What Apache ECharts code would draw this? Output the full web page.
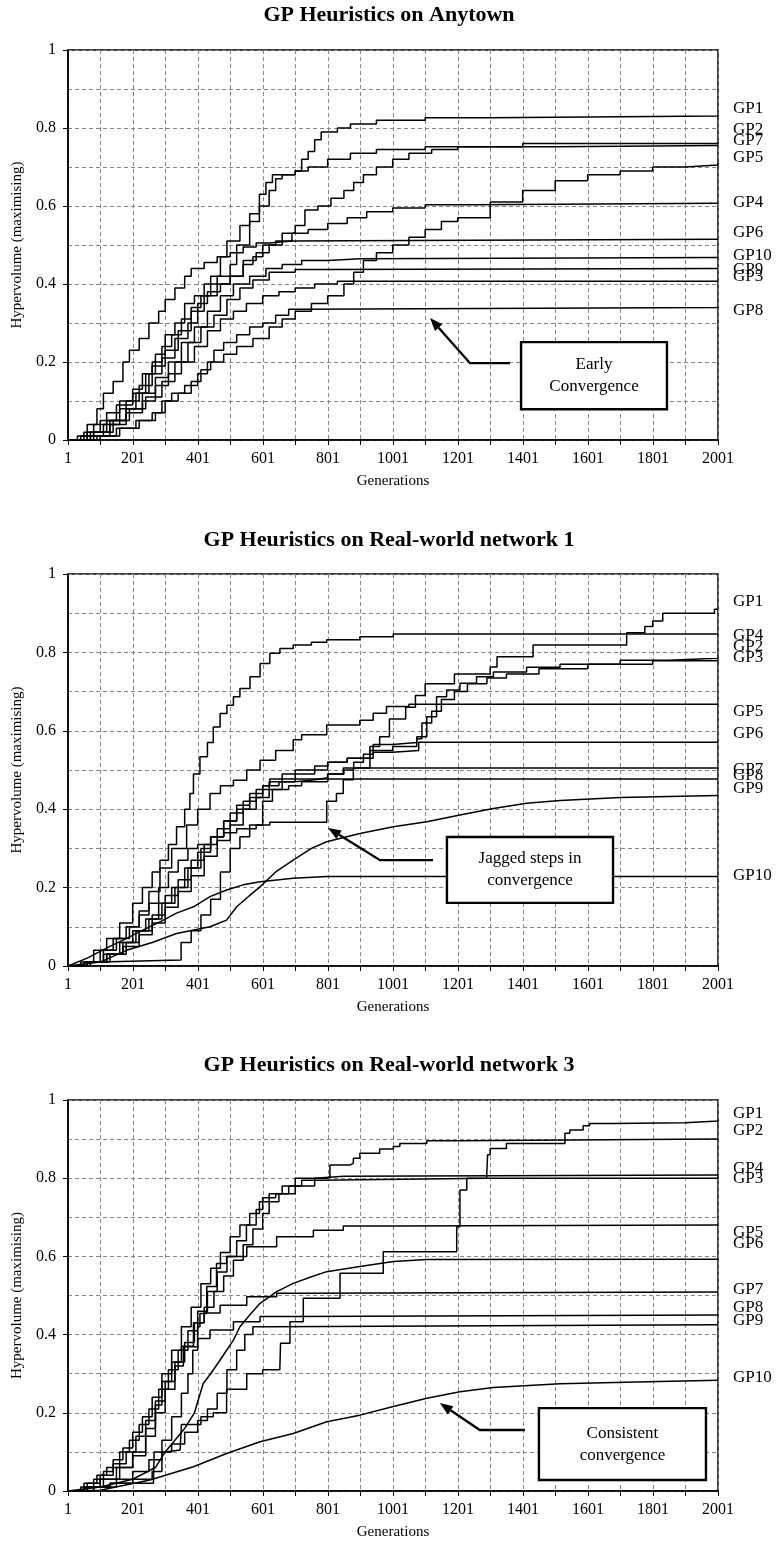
<!DOCTYPE html>
<html>
<head>
<meta charset="utf-8">
<script src="https://cdn.jsdelivr.net/npm/echarts@6/dist/echarts.min.js"></script>
<style>
  html, body { margin: 0; padding: 0; background: #fff; }
  #chart { width: 778px; height: 1547px; }
</style>
</head>
<body>
<div id="chart"></div>
<script>
// ---- data (generation, hypervolume), series in order GP1..GP10 ----
const seriesNames = ['GP1', 'GP2', 'GP3', 'GP4', 'GP5', 'GP6', 'GP7', 'GP8', 'GP9', 'GP10'];
const panelTitles = ['GP Heuristics on Anytown', 'GP Heuristics on Real-world network 1', 'GP Heuristics on Real-world network 3'];
const xTickLabels = ['1', '201', '401', '601', '801', '1001', '1201', '1401', '1601', '1801', '2001'];

const anytownCurves = [
  [[1,0],[40,0.01],[80,0.04],[120,0.07],[160,0.1],[200,0.13],[230,0.17],[260,0.2],[290,0.24],[320,0.27],[350,0.31],[380,0.34],[410,0.37],[440,0.42],[470,0.47],[490,0.51],[530,0.55],[560,0.58],[590,0.63],[610,0.66],[630,0.68],[700,0.69],[720,0.72],[740,0.74],[760,0.77],[780,0.79],[830,0.8],[870,0.81],[950,0.82],[1100,0.826],[1300,0.831],[2001,0.833]],
  [[1,0],[50,0.02],[100,0.05],[150,0.09],[200,0.12],[240,0.17],[270,0.22],[300,0.27],[330,0.3],[360,0.35],[390,0.37],[420,0.4],[460,0.42],[500,0.45],[520,0.5],[560,0.56],[590,0.6],[620,0.64],[640,0.67],[660,0.68],[700,0.69],[740,0.7],[800,0.72],[870,0.735],[950,0.745],[1100,0.752],[1400,0.76],[2001,0.764]],
  [[1,0],[70,0.01],[130,0.04],[180,0.07],[230,0.1],[270,0.14],[310,0.17],[350,0.2],[390,0.24],[430,0.28],[470,0.31],[510,0.33],[550,0.35],[600,0.37],[650,0.38],[700,0.39],[760,0.4],[830,0.407],[2001,0.408]],
  [[1,0],[60,0.01],[110,0.04],[160,0.08],[210,0.12],[250,0.17],[290,0.21],[330,0.26],[370,0.3],[400,0.35],[430,0.38],[470,0.4],[500,0.42],[540,0.45],[570,0.47],[600,0.5],[640,0.51],[690,0.53],[740,0.54],[800,0.555],[860,0.57],[920,0.585],[1000,0.595],[1100,0.603],[1250,0.607],[2001,0.608]],
  [[1,0],[100,0.01],[160,0.03],[220,0.05],[270,0.07],[300,0.1],[340,0.12],[380,0.15],[410,0.18],[440,0.2],[480,0.22],[520,0.24],[570,0.26],[620,0.29],[660,0.31],[700,0.33],[750,0.35],[800,0.37],[850,0.4],[880,0.43],[910,0.46],[950,0.48],[1000,0.5],[1050,0.52],[1100,0.54],[1150,0.56],[1200,0.57],[1300,0.61],[1400,0.64],[1500,0.665],[1600,0.68],[1700,0.69],[1800,0.7],[1900,0.705],[2001,0.71]],
  [[1,0],[30,0.01],[60,0.04],[90,0.08],[110,0.12],[140,0.15],[170,0.2],[190,0.23],[220,0.26],[250,0.3],[280,0.33],[300,0.36],[330,0.39],[360,0.42],[380,0.44],[420,0.455],[460,0.47],[500,0.48],[540,0.495],[580,0.505],[620,0.51],[690,0.515],[2001,0.516]],
  [[1,0],[60,0.02],[120,0.05],[180,0.1],[220,0.14],[260,0.19],[300,0.23],[340,0.28],[380,0.33],[420,0.37],[460,0.4],[500,0.42],[540,0.46],[580,0.48],[620,0.5],[660,0.53],[700,0.55],[730,0.59],[770,0.6],[810,0.62],[850,0.64],[880,0.66],[910,0.68],[950,0.7],[1000,0.72],[1050,0.735],[1120,0.745],[1200,0.752],[1500,0.755],[2001,0.756]],
  [[1,0],[90,0.01],[150,0.03],[210,0.05],[260,0.07],[290,0.1],[320,0.12],[360,0.14],[400,0.17],[430,0.2],[450,0.23],[480,0.25],[520,0.27],[560,0.29],[600,0.3],[640,0.32],[680,0.335],[720,0.34],[2001,0.342]],
  [[1,0],[80,0.02],[140,0.05],[190,0.08],[240,0.11],[290,0.15],[330,0.2],[370,0.25],[410,0.29],[450,0.32],[490,0.36],[530,0.39],[570,0.41],[620,0.43],[700,0.437],[800,0.44],[2001,0.44]],
  [[1,0],[70,0.02],[130,0.05],[180,0.08],[230,0.12],[270,0.16],[310,0.2],[350,0.25],[390,0.29],[430,0.33],[470,0.37],[510,0.4],[560,0.42],[610,0.44],[660,0.45],[720,0.46],[800,0.465],[900,0.468],[2001,0.469]]
];
const anytownLabelY = [0.851, 0.795, 0.418, 0.608, 0.723, 0.533, 0.769, 0.333, 0.436, 0.474];

const network1Curves = [
  [[1,0],[60,0.01],[110,0.04],[150,0.07],[190,0.1],[220,0.13],[250,0.16],[280,0.2],[310,0.24],[340,0.27],[370,0.3],[400,0.31],[440,0.33],[480,0.34],[520,0.35],[580,0.36],[622,0.367],[797,0.42],[827,0.44],[848,0.475],[879,0.505],[930,0.56],[960,0.585],[990,0.63],[1040,0.66],[1070,0.69],[1100,0.72],[1190,0.745],[1300,0.763],[1321,0.789],[1432,0.819],[1720,0.85],[1776,0.866],[1800,0.88],[1831,0.9],[1990,0.91],[2001,0.911]],
  [[1,0],[70,0.01],[130,0.03],[180,0.06],[220,0.09],[260,0.13],[300,0.18],[340,0.22],[380,0.27],[420,0.31],[460,0.35],[500,0.39],[540,0.42],[580,0.45],[620,0.47],[660,0.49],[700,0.5],[760,0.51],[800,0.52],[860,0.53],[930,0.55],[1000,0.56],[1074,0.585],[1105,0.636],[1135,0.687],[1166,0.704],[1207,0.721],[1258,0.738],[1310,0.75],[1412,0.762],[1515,0.77],[1700,0.78],[1850,0.785],[2001,0.787]],
  [[1,0],[60,0.01],[120,0.03],[170,0.05],[220,0.08],[260,0.11],[300,0.15],[340,0.19],[380,0.23],[420,0.28],[460,0.32],[500,0.36],[540,0.4],[580,0.43],[620,0.45],[680,0.46],[720,0.47],[800,0.49],[850,0.5],[880,0.52],[910,0.54],[940,0.565],[1000,0.57],[1074,0.58],[1090,0.62],[1120,0.65],[1150,0.68],[1190,0.7],[1230,0.72],[1290,0.735],[1350,0.745],[1450,0.758],[1600,0.77],[1800,0.779],[2001,0.782]],
  [[1,0],[40,0.01],[80,0.04],[120,0.07],[160,0.11],[200,0.16],[230,0.2],[260,0.24],[284,0.27],[310,0.31],[335,0.355],[360,0.4],[376,0.44],[387,0.49],[407,0.534],[430,0.57],[448,0.61],[469,0.644],[490,0.665],[510,0.687],[530,0.708],[561,0.738],[592,0.772],[622,0.798],[653,0.81],[694,0.819],[750,0.826],[797,0.832],[899,0.84],[1002,0.847],[2001,0.847]],
  [[1,0],[50,0.01],[100,0.04],[140,0.07],[180,0.1],[220,0.14],[250,0.19],[284,0.25],[320,0.3],[366,0.36],[400,0.4],[438,0.44],[470,0.46],[510,0.474],[551,0.5],[592,0.525],[640,0.55],[694,0.577],[720,0.59],[797,0.615],[899,0.627],[940,0.645],[981,0.662],[1050,0.668],[2001,0.668]],
  [[1,0],[60,0.01],[100,0.015],[349,0.06],[380,0.09],[410,0.13],[440,0.17],[470,0.24],[500,0.3],[530,0.33],[560,0.36],[600,0.42],[630,0.45],[660,0.47],[700,0.49],[760,0.5],[800,0.52],[860,0.53],[940,0.545],[1000,0.55],[1080,0.571],[2001,0.571]],
  [[1,0],[60,0.01],[110,0.03],[160,0.06],[200,0.09],[240,0.12],[280,0.16],[320,0.2],[360,0.25],[400,0.29],[440,0.33],[480,0.37],[520,0.4],[560,0.43],[600,0.46],[650,0.47],[700,0.475],[760,0.48],[800,0.49],[848,0.505],[2001,0.505]],
  [[1,0],[70,0.01],[120,0.03],[170,0.06],[210,0.09],[250,0.12],[290,0.16],[330,0.2],[370,0.25],[410,0.3],[440,0.33],[480,0.37],[520,0.41],[560,0.44],[600,0.46],[622,0.477],[2001,0.477]],
  [[1,0],[100,0.01],[181,0.04],[260,0.06],[335,0.083],[438,0.1],[489,0.117],[520,0.151],[560,0.18],[592,0.202],[640,0.24],[694,0.27],[750,0.3],[797,0.317],[899,0.338],[1002,0.355],[1105,0.368],[1207,0.385],[1310,0.402],[1412,0.415],[1515,0.422],[1700,0.43],[2001,0.435]],
  [[1,0],[60,0.02],[130,0.05],[180,0.07],[233,0.092],[290,0.115],[335,0.135],[387,0.151],[438,0.177],[489,0.194],[540,0.207],[592,0.215],[694,0.224],[797,0.228],[2001,0.228]]
];
const network1LabelY = [0.929, 0.816, 0.788, 0.844, 0.648, 0.594, 0.5, 0.487, 0.454, 0.232];

const network3Curves = [
  [[1,0],[50,0.02],[90,0.04],[120,0.06],[160,0.1],[190,0.13],[220,0.17],[250,0.21],[280,0.26],[310,0.31],[340,0.36],[370,0.41],[400,0.46],[430,0.51],[460,0.56],[490,0.6],[520,0.64],[550,0.68],[580,0.72],[600,0.75],[640,0.76],[680,0.78],[720,0.795],[770,0.8],[1289,0.804],[1292,0.86],[1300,0.876],[1350,0.889],[1530,0.915],[1545,0.923],[1586,0.934],[1606,0.94],[1677,0.942],[1900,0.946],[2001,0.949]],
  [[1,0],[60,0.02],[100,0.04],[140,0.07],[180,0.1],[210,0.14],[240,0.18],[270,0.23],[300,0.28],[330,0.33],[360,0.38],[390,0.43],[420,0.47],[450,0.51],[480,0.55],[510,0.59],[540,0.63],[570,0.67],[600,0.71],[620,0.74],[650,0.76],[700,0.78],[760,0.8],[797,0.804],[807,0.834],[869,0.838],[879,0.851],[899,0.864],[960,0.875],[1002,0.881],[1022,0.889],[1105,0.896],[1207,0.9],[2001,0.9]],
  [[1,0],[60,0.01],[130,0.02],[264,0.028],[266,0.1],[300,0.105],[346,0.11],[350,0.17],[410,0.19],[448,0.2],[489,0.26],[551,0.3],[600,0.31],[653,0.318],[655,0.378],[684,0.433],[725,0.493],[838,0.557],[971,0.612],[1197,0.676],[1207,0.77],[1228,0.8],[2001,0.803]],
  [[1,0],[40,0.01],[80,0.03],[110,0.05],[140,0.08],[170,0.11],[200,0.15],[230,0.19],[260,0.24],[290,0.3],[320,0.36],[350,0.42],[380,0.47],[410,0.53],[440,0.57],[470,0.61],[500,0.65],[530,0.68],[560,0.71],[590,0.74],[620,0.76],[660,0.78],[700,0.8],[760,0.805],[850,0.808],[2001,0.808]],
  [[1,0],[80,0.01],[150,0.03],[200,0.05],[250,0.08],[290,0.13],[320,0.19],[350,0.25],[370,0.3],[385,0.36],[400,0.42],[407,0.454],[428,0.523],[458,0.582],[489,0.6],[551,0.625],[643,0.65],[756,0.667],[848,0.678],[1002,0.68],[2001,0.68]],
  [[1,0],[100,0.01],[200,0.03],[270,0.06],[300,0.1],[330,0.13],[360,0.16],[390,0.2],[417,0.275],[440,0.3],[469,0.335],[510,0.386],[530,0.42],[560,0.45],[592,0.48],[643,0.51],[694,0.531],[750,0.548],[797,0.561],[899,0.574],[1002,0.587],[1105,0.592],[2001,0.593]],
  [[1,0],[50,0.01],[100,0.03],[150,0.06],[200,0.1],[240,0.16],[270,0.22],[290,0.28],[320,0.33],[350,0.37],[387,0.43],[420,0.455],[469,0.475],[551,0.497],[643,0.506],[720,0.509],[2001,0.509]],
  [[1,0],[60,0.01],[110,0.03],[160,0.06],[200,0.09],[240,0.14],[270,0.2],[300,0.26],[330,0.32],[356,0.369],[400,0.39],[438,0.412],[510,0.433],[592,0.446],[694,0.45],[2001,0.45]],
  [[1,0],[80,0.01],[130,0.02],[200,0.03],[260,0.05],[290,0.1],[320,0.12],[360,0.15],[400,0.18],[430,0.21],[460,0.25],[490,0.31],[520,0.36],[545,0.4],[570,0.42],[620,0.425],[2001,0.425]],
  [[1,0],[100,0.002],[253,0.028],[387,0.062],[489,0.096],[592,0.126],[694,0.147],[797,0.177],[899,0.194],[1002,0.216],[1105,0.237],[1207,0.254],[1310,0.265],[1515,0.274],[1750,0.279],[2001,0.283]]
];
const network3LabelY = [0.966, 0.923, 0.798, 0.826, 0.662, 0.634, 0.514, 0.468, 0.437, 0.289];

// smooth (non-staircase) series per panel, by name
const smoothSeries = [[], ['GP9', 'GP10'], ['GP6', 'GP10']];

// annotation notes: text lines, box [gen0, gen1, val top, val bottom], arrow [tip, bend, end] in data units
const noteTexts = [['Early', 'Convergence'], ['Jagged steps in', 'convergence'], ['Consistent', 'convergence']];
const noteBoxes = [[1395, 1844, 0.251, 0.079], [1167, 1678, 0.329, 0.161], [1450, 1964, 0.212, 0.028]];
const noteArrows = [
  [[1115, 0.313], [1238, 0.197], [1361, 0.197]],
  [[801, 0.352], [961, 0.27], [1124, 0.27]],
  [[1145, 0.225], [1268, 0.156], [1407, 0.156]]
];

// ---- chart ----
const FONT = '"Liberation Serif", "Times New Roman", serif';
const gridTops = [50, 574, 1100];
const gridHeights = [390, 392, 391];
const titleTops = [4, 529, 1054];
const curvesByPanel = [anytownCurves, network1Curves, network3Curves];
const labelYByPanel = [anytownLabelY, network1LabelY, network3LabelY];

const dashed = { color: '#858585', width: 1, type: [4, 3] };
const grids = [], xAxes = [], yAxes = [], titles = [], series = [];

panelTitles.forEach((t, i) => {
  titles.push({
    text: t, left: 'center', top: titleTops[i], padding: 0,
    textStyle: { fontFamily: FONT, fontSize: 22, fontWeight: 'bold', color: '#000' }
  });
  grids.push({
    left: 68, top: gridTops[i], width: 650, height: gridHeights[i],
    outerBoundsMode: 'none', containLabel: false,
    show: true, borderColor: '#000', borderWidth: 1.5, backgroundColor: 'transparent'
  });
  xAxes.push({
    gridIndex: i, type: 'value', min: 0, max: 2000, interval: 200,
    name: 'Generations', nameLocation: 'middle', nameGap: 34,
    nameTextStyle: { fontFamily: FONT, fontSize: 15, color: '#000' },
    axisLine: { show: true, onZero: false, lineStyle: { color: '#000', width: 1.6 } },
    axisTick: { show: true, length: 5, lineStyle: { color: '#000', width: 1 } },
    minorTick: { show: true, splitNumber: 2, length: 5, lineStyle: { color: '#000', width: 1 } },
    axisLabel: {
      fontFamily: FONT, fontSize: 16, color: '#000', margin: 11,
      showMinLabel: true, showMaxLabel: true,
      formatter: v => xTickLabels[Math.round(v / 200)]
    },
    splitLine: { show: true, lineStyle: dashed },
    minorSplitLine: { show: true, lineStyle: dashed }
  });
  yAxes.push({
    gridIndex: i, type: 'value', min: 0, max: 1, interval: 0.2,
    name: 'Hypervolume (maximising)', nameLocation: 'middle', nameGap: 43,
    nameTextStyle: { fontFamily: FONT, fontSize: 15, color: '#000' },
    axisLine: { show: true, lineStyle: { color: '#000', width: 1.6 } },
    axisTick: { show: true, length: 5, lineStyle: { color: '#000', width: 1 } },
    minorTick: { show: false, splitNumber: 2 },
    axisLabel: { fontFamily: FONT, fontSize: 16, color: '#000', margin: 12 },
    splitLine: { show: true, lineStyle: dashed },
    minorSplitLine: { show: true, lineStyle: dashed }
  });
  curvesByPanel[i].forEach((curve, k) => {
    const nm = seriesNames[k];
    series.push({
      type: 'line', name: nm, xAxisIndex: i, yAxisIndex: i,
      data: curve.map(p => [p[0] - 1, p[1]]),
      step: smoothSeries[i].includes(nm) ? false : 'end',
      showSymbol: false, symbol: 'none', silent: true,
      lineStyle: { color: '#000', width: 1.5 }
    });
  });
});

const chart = echarts.init(document.getElementById('chart'));
chart.setOption({
  animation: false,
  backgroundColor: '#fff',
  title: titles, grid: grids, xAxis: xAxes, yAxis: yAxes, series: series
});

// labels, boxes and arrows placed through the axes' own scales
const px = (i, g, v) => chart.convertToPixel({ gridIndex: i }, [g - 1, v]);
const graphics = [];
panelTitles.forEach((t, i) => {
  labelYByPanel[i].forEach((v, k) => {
    const p = px(i, 2001, v);
    graphics.push({
      type: 'text', x: p[0] + 15, y: p[1], z: 100,
      style: { text: seriesNames[k], font: '17px ' + FONT, fill: '#000',
        textAlign: 'left', textVerticalAlign: 'middle', align: 'left', verticalAlign: 'middle' }
    });
  });
  const b = noteBoxes[i];
  const a = px(i, b[0], b[2]), c = px(i, b[1], b[3]);
  graphics.push({
    type: 'rect', z: 100,
    shape: { x: a[0], y: a[1], width: c[0] - a[0], height: c[1] - a[1] },
    style: { fill: '#fff', stroke: '#000', lineWidth: 2.4 }
  });
  const cx = (a[0] + c[0]) / 2, cy = (a[1] + c[1]) / 2;
  noteTexts[i].forEach((line, j) => {
    graphics.push({
      type: 'text', x: cx, y: cy + (j - 0.5) * 22, z: 101,
      style: { text: line, font: '17px ' + FONT, fill: '#000',
        textAlign: 'center', textVerticalAlign: 'middle', align: 'center', verticalAlign: 'middle' }
    });
  });
  const pts = noteArrows[i].map(q => px(i, q[0], q[1]));
  const tip = pts[0], bend = pts[1];
  const dx = tip[0] - bend[0], dy = tip[1] - bend[1];
  const len = Math.hypot(dx, dy), ux = dx / len, uy = dy / len;
  const L = 13, W = 5;
  const base = [tip[0] - ux * L, tip[1] - uy * L];
  graphics.push({
    type: 'polyline', z: 100,
    shape: { points: [base, bend, pts[2]] },
    style: { stroke: '#000', lineWidth: 2.4, fill: null }
  });
  graphics.push({
    type: 'polygon', z: 100,
    shape: { points: [tip, [base[0] - uy * W, base[1] + ux * W], [base[0] + uy * W, base[1] - ux * W]] },
    style: { fill: '#000' }
  });
});
chart.setOption({ graphic: graphics });
</script>
</body>
</html>
